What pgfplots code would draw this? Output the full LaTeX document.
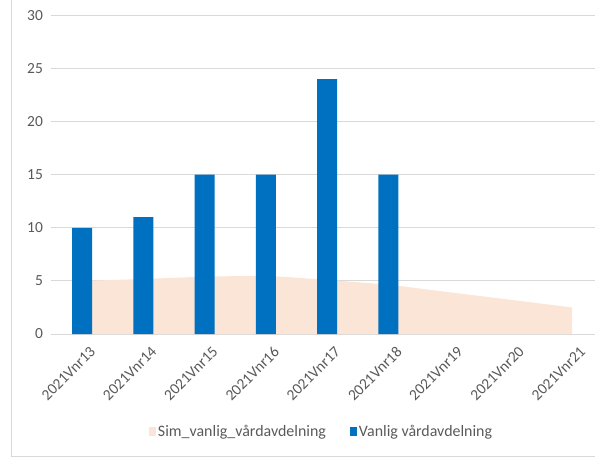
\documentclass[border=0pt]{standalone}
\usepackage{pgfplots}
\pgfplotsset{compat=1.18}
\usepackage{fontspec}
\setmainfont{Carlito}
\definecolor{barblue}{HTML}{0070C0}
\definecolor{peach}{HTML}{FBE5D6}
\definecolor{gridgray}{HTML}{D9D9D9}
\definecolor{txtgray}{HTML}{595959}
\begin{document}
\begin{tikzpicture}[x=1bp,y=1bp]
\begin{axis}[
  at={(51.4bp,123bp)}, anchor=south west,
  scale only axis,
  width=543.6bp, height=318.5bp,
  xmin=-0.5, xmax=8.375,
  ymin=0, ymax=30,
  ytick={0,5,10,15,20,25,30},
  xtick={0,...,8},
  xticklabels={2021Vnr13,2021Vnr14,2021Vnr15,2021Vnr16,2021Vnr17,2021Vnr18,2021Vnr19,2021Vnr20,2021Vnr21},
  axis line style={draw=none},
  major tick length=0pt,
  ymajorgrids,
  grid style={gridgray, line width=1bp},
  /pgf/number format/assume math mode=true,
  tick label style={font=\fontsize{15.5}{18}\selectfont, text=txtgray},
  yticklabel style={xshift=-5bp},
  xticklabel style={rotate=45, anchor=north east, inner sep=0pt, xshift=-3bp, yshift=-13bp},
  legend style={at={(0.497,-0.307)}, anchor=center, draw=none, fill=none,
    legend columns=2, font=\fontsize{16}{19}\selectfont, text=txtgray,
    /tikz/every even column/.append style={column sep=22bp}},
  legend cell align=left,
  clip=false,
]
\addplot[fill=peach, draw=none, area legend,
  legend image code/.code={\fill[peach] (0bp,-4.5bp) rectangle (7bp,4.5bp);}]
  coordinates {(0,5.0) (1,5.18) (2,5.4) (3,5.5) (4,5.1) (5,4.65) (6,3.93) (7,3.22) (8,2.5)} \closedcycle;
\addlegendentry{Sim\_vanlig\_vårdavdelning}
\addplot[ybar, bar width=20bp, bar shift=0pt, fill=barblue, draw=none, area legend,
  legend image code/.code={\fill[barblue] (0bp,-4.5bp) rectangle (7bp,4.5bp);}]
  coordinates {(0,10) (1,11) (2,15) (3,15) (4,24) (5,15)};
\addlegendentry{Vanlig vårdavdelning}
\end{axis}
\draw[gridgray, line width=1bp] (11bp,457bp) -- (11bp,1bp) -- (595bp,1bp);
\pgfresetboundingbox
\useasboundingbox (0,0) rectangle (595bp,457bp);
\end{tikzpicture}
\end{document}
